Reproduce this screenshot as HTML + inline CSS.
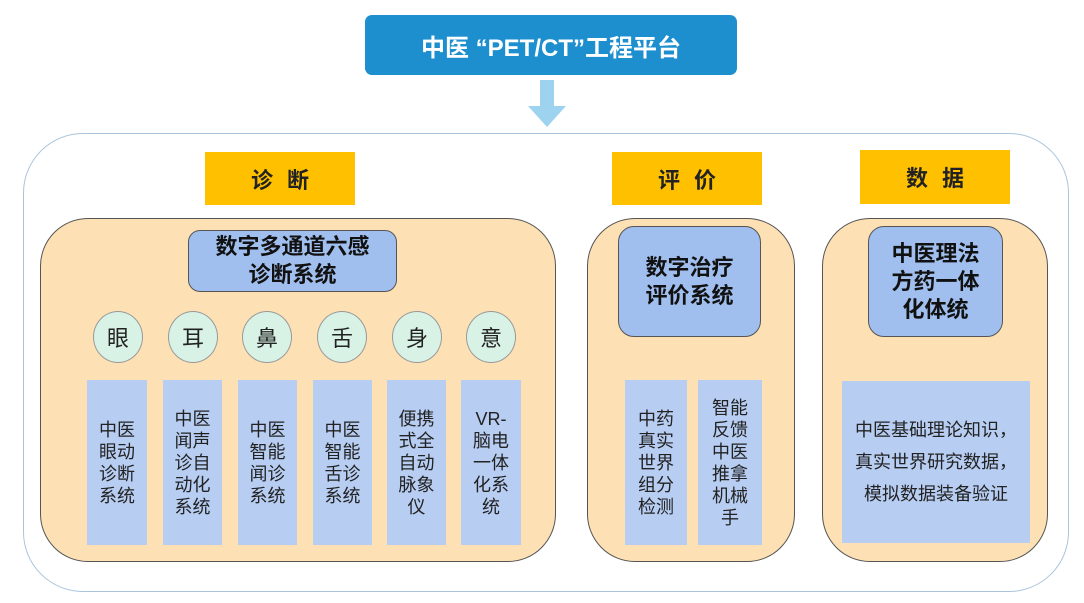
<!DOCTYPE html>
<html><head><meta charset="utf-8"><style>
*{margin:0;padding:0;box-sizing:border-box}
body{width:1084px;height:603px;background:#fff;position:relative;overflow:hidden;font-family:"Liberation Sans","Noto Sans CJK SC",sans-serif}
div{position:absolute}
.c{display:flex;align-items:center;justify-content:center;text-align:center}
.y{background:#ffc000;font-weight:bold;font-size:22px;color:#222;letter-spacing:14px;padding-left:14px}
.p{background:#fde0b4;border:1.5px solid #555;border-radius:48px}
.t{background:#a0bfee;border:1.5px solid #555;border-radius:12px;font-weight:bold;font-size:22px;line-height:28px;color:#111}
.ci{width:50px;height:52px;border-radius:50%;background:#d9f2e6;border:1.5px solid #999;font-size:22px;color:#222}
.b{background:#b7cdf2;font-size:18px;line-height:22px;color:#222}
</style></head><body>
<div class="c" style="left:365px;top:15px;width:372px;height:60px;background:#1d8fcf;border-radius:7px;color:#fff;font-weight:bold;font-size:24px">中医 “PET/CT”工程平台</div>
<svg style="position:absolute;left:522px;top:80px" width="50" height="50"><polygon points="18,0 32,0 32,26 44,26 25,47 6,26 18,26" fill="#9dd3ee"/></svg>
<div style="left:23px;top:133px;width:1046px;height:459px;border:1.5px solid #a9c4dc;border-radius:60px"></div>
<div class="c y" style="left:205px;top:152px;width:150px;height:53px">诊断</div>
<div class="c y" style="left:612px;top:152px;width:150px;height:53px">评价</div>
<div class="c y" style="left:860px;top:150px;width:150px;height:54px">数据</div>

<div class="p" style="left:40px;top:218px;width:516px;height:344px"></div>
<div class="c t" style="left:188px;top:230px;width:209px;height:62px">数字多通道六感<br>诊断系统</div>
<div class="c ci" style="left:93px;top:311px">眼</div>
<div class="c ci" style="left:168px;top:311px">耳</div>
<div class="c ci" style="left:242px;top:311px">鼻</div>
<div class="c ci" style="left:317px;top:311px">舌</div>
<div class="c ci" style="left:392px;top:311px">身</div>
<div class="c ci" style="left:466px;top:311px">意</div>
<div class="c b" style="left:87px;top:380px;width:60px;height:165px">中医<br>眼动<br>诊断<br>系统</div>
<div class="c b" style="left:163px;top:380px;width:59px;height:165px">中医<br>闻声<br>诊自<br>动化<br>系统</div>
<div class="c b" style="left:238px;top:380px;width:59px;height:165px">中医<br>智能<br>闻诊<br>系统</div>
<div class="c b" style="left:313px;top:380px;width:59px;height:165px">中医<br>智能<br>舌诊<br>系统</div>
<div class="c b" style="left:387px;top:380px;width:59px;height:165px">便携<br>式全<br>自动<br>脉象<br>仪</div>
<div class="c b" style="left:461px;top:380px;width:60px;height:165px">VR-<br>脑电<br>一体<br>化系<br>统</div>

<div class="p" style="left:587px;top:218px;width:208px;height:344px"></div>
<div class="c t" style="left:618px;top:226px;width:143px;height:111px;border-radius:16px">数字治疗<br>评价系统</div>
<div class="c b" style="left:625px;top:380px;width:62px;height:165px">中药<br>真实<br>世界<br>组分<br>检测</div>
<div class="c b" style="left:698px;top:380px;width:64px;height:165px">智能<br>反馈<br>中医<br>推拿<br>机械<br>手</div>

<div class="p" style="left:822px;top:218px;width:226px;height:344px"></div>
<div class="c t" style="left:868px;top:226px;width:135px;height:111px;border-radius:16px">中医理法<br>方药一体<br>化体统</div>
<div class="c b" style="left:842px;top:381px;width:188px;height:162px;line-height:32px">中医基础理论知识，<br>真实世界研究数据，<br>模拟数据装备验证</div>
</body></html>
